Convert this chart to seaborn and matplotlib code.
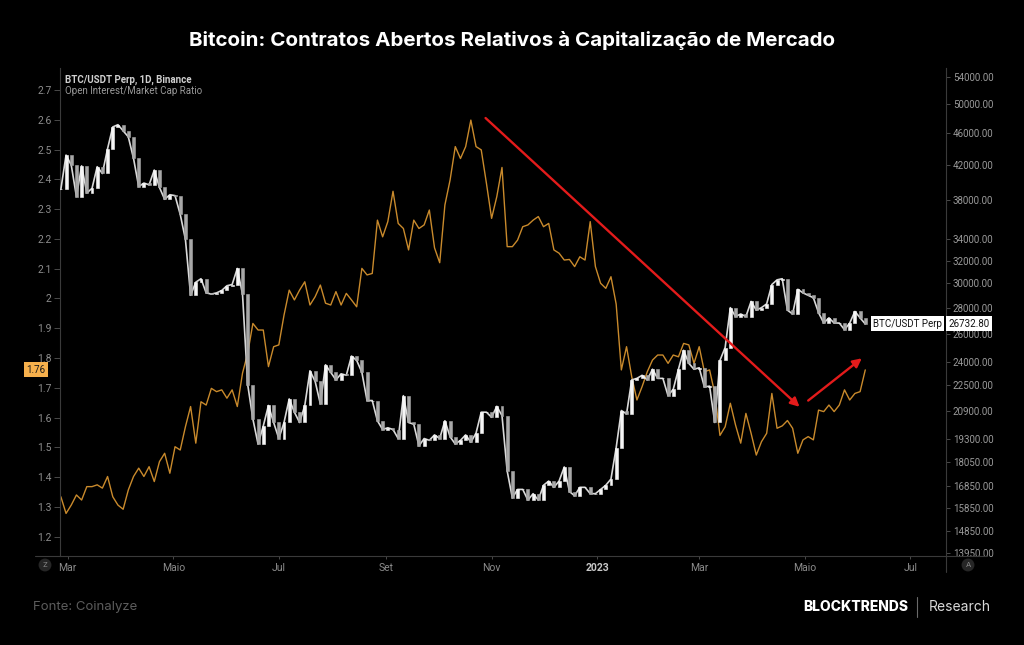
import pandas as pd
import seaborn as sns
import matplotlib.pyplot as plt
import matplotlib.dates as mdates
from matplotlib.ticker import FixedLocator, FixedFormatter, NullLocator
from matplotlib.lines import Line2D

# Style
sns.set_theme(style="dark", rc={"axes.facecolor": "black", "figure.facecolor": "black"})
plt.rcParams['font.family'] = ['Inter', 'DejaVu Sans']

# --- data (one point every 3 days from 2022-02-25) ---
start_date = "2022-02-25"
step_days = 3

btc_close = [
    39200, 43200, 42000, 38400, 41900, 38800, 39300, 41800, 41000, 44000,
    46800, 47100, 46300, 45500, 42800, 39500, 39900, 39700, 41400, 39400,
    38100, 38600, 38500, 36500, 34000, 29000, 30100, 30400, 29200, 29100,
    29200, 29400, 29800, 29900, 31300, 29100, 22500, 20400, 19000, 20000,
    21200, 20200, 19300, 20200, 21600, 20800, 20200, 21200, 23400, 22700,
    21300, 23800, 23300, 22800, 23200, 23100, 24400, 24100, 23300, 21500,
    21500, 20300, 19800, 19900, 19800, 19300, 21800, 20200, 20100, 18900,
    19300, 19200, 19500, 19300, 20300, 19400, 19000, 19200, 19500, 19100,
    19600, 20800, 20800, 20500, 21150, 20600, 17600, 16300, 16700, 16700,
    16200, 16500, 16200, 16900, 17100, 16800, 17100, 17800, 16600, 16400,
    16800, 16800, 16500, 16500, 16700, 16900, 17200, 18800, 20900, 20700,
    22800, 22900, 23100, 22800, 23500, 22900, 22900, 21800, 22200, 23500,
    24800, 23900, 23500, 23600, 22350, 22400, 20200, 24100, 25000, 28000,
    27300, 27500, 27300, 28500, 27800, 28000, 28300, 29900, 30300, 30400,
    27800, 27500, 29500, 29200, 29000, 28800, 27600, 26800, 27200, 26800,
    26800, 26300, 26800, 27700, 27200, 26732.80,
]

oi_mcap_ratio = [
    1.334, 1.278, 1.306, 1.340, 1.323, 1.368, 1.368, 1.374, 1.363, 1.402,
    1.334, 1.306, 1.292, 1.357, 1.402, 1.430, 1.402, 1.435, 1.385, 1.452,
    1.480, 1.413, 1.502, 1.491, 1.569, 1.637, 1.514, 1.653, 1.642, 1.698,
    1.687, 1.693, 1.665, 1.693, 1.637, 1.749, 1.816, 1.916, 1.894, 1.894,
    1.771, 1.838, 1.844, 1.944, 2.028, 1.995, 2.028, 2.056, 1.978, 2.006,
    2.045, 1.984, 1.978, 2.023, 1.978, 2.017, 1.995, 1.972, 2.101, 2.079,
    2.084, 2.263, 2.207, 2.258, 2.360, 2.252, 2.235, 2.163, 2.263, 2.235,
    2.247, 2.297, 2.170, 2.120, 2.314, 2.398, 2.510, 2.470, 2.510, 2.599,
    2.510, 2.499, 2.387, 2.269, 2.342, 2.440, 2.174, 2.174, 2.196, 2.241,
    2.247, 2.263, 2.275, 2.241, 2.252, 2.163, 2.152, 2.129, 2.131, 2.107,
    2.140, 2.129, 2.258, 2.107, 2.051, 2.034, 2.073, 1.981, 1.760, 1.838,
    1.737, 1.659, 1.704, 1.754, 1.793, 1.810, 1.810, 1.782, 1.810, 1.804,
    1.849, 1.844, 1.782, 1.838, 1.754, 1.760, 1.681, 1.540, 1.569, 1.648,
    1.575, 1.514, 1.614, 1.547, 1.474, 1.519, 1.547, 1.681, 1.564, 1.572,
    1.590, 1.564, 1.480, 1.525, 1.536, 1.525, 1.625, 1.620, 1.642, 1.620,
    1.642, 1.693, 1.659, 1.681, 1.687, 1.760,
]

ratio_ticks = [1.2, 1.3, 1.4, 1.5, 1.6, 1.7, 1.8, 1.9, 2.0, 2.1, 2.2, 2.3, 2.4, 2.5, 2.6, 2.7]
ratio_tick_labels = ["1.2", "1.3", "1.4", "1.5", "1.6", "1.7", "1.8", "1.9", "2",
                     "2.1", "2.2", "2.3", "2.4", "2.5", "2.6", "2.7"]
price_ticks = [13950, 14850, 15850, 16850, 18050, 19300, 20900, 22500, 24000,
               26000, 28000, 30000, 32000, 34000, 38000, 42000, 46000, 50000, 54000]
month_ticks = ["2022-03-01", "2022-05-01", "2022-07-01", "2022-09-01", "2022-11-01",
               "2023-01-01", "2023-03-01", "2023-05-01", "2023-07-01"]
month_labels = ["Mar", "Maio", "Jul", "Set", "Nov", "2023", "Mar", "Maio", "Jul"]

title = "Bitcoin: Contratos Abertos Relativos à Capitalização de Mercado"

ORANGE = "#c98a2c"
RED = "#e31b1b"
GRID_GRAY = "#3a3a3a"
LABEL_GRAY = "#8c8c8c"
TICK_FONT = ['Liberation Sans Narrow', 'Roboto', 'DejaVu Sans']


def build_frame():
    dates = pd.date_range(start_date, periods=len(btc_close), freq=f"{step_days}D")
    df = pd.DataFrame({"date": dates, "close": btc_close, "ratio": oi_mcap_ratio})
    df["open"] = df["close"].shift(1).fillna(df["close"])
    return df


def plot_chart(df):
    fig = plt.figure(figsize=(10.24, 6.45), dpi=100, facecolor="black")
    W, H = 1024, 645
    ax = fig.add_axes([60 / W, 1 - 556 / H, (946 - 60) / W, (556 - 68) / H])
    ax.set_facecolor("black")
    ax2 = ax.twinx()
    ax2.patch.set_visible(False)

    # OI / market cap ratio (left axis)
    sns.lineplot(data=df, x="date", y="ratio", ax=ax, color=ORANGE, linewidth=1.0, legend=False)

    # BTC price (right axis, log): close path + candle bodies
    sns.lineplot(data=df, x="date", y="close", ax=ax2, color="#d9d9d9", linewidth=1.2,
                 legend=False, zorder=3)
    up = df["close"] >= df["open"]
    for mask, col in [(up, "#f6f6f6"), (~up, "#a8a8a8")]:
        sub = df[mask]
        ax2.bar(sub["date"], sub["close"] - sub["open"], bottom=sub["open"], width=1.7,
                color=col, edgecolor=col, linewidth=0.4, zorder=4)

    # axes ranges
    ax.set_xlim(pd.Timestamp("2022-02-24 12:00"), pd.Timestamp("2023-07-21 16:00"))
    ax.set_ylim(1.135, 2.774)
    ax2.set_yscale("log")
    ax2.set_ylim(13820, 55340)

    # left ticks
    ax.yaxis.set_major_locator(FixedLocator(ratio_ticks))
    ax.yaxis.set_major_formatter(FixedFormatter(ratio_tick_labels))
    ax.tick_params(axis="y", left=True, length=4, width=0.6, color="#555555",
                   labelcolor=LABEL_GRAY, labelsize=7.5, pad=2)
    # right ticks
    ax2.yaxis.set_major_locator(FixedLocator(price_ticks))
    ax2.yaxis.set_major_formatter(FixedFormatter([f"{p:.2f}" for p in price_ticks]))
    ax2.yaxis.set_minor_locator(NullLocator())
    ax2.tick_params(axis="y", right=True, length=3, width=0.6, color="#555555",
                    labelcolor="#9a9a9a", labelsize=7, pad=2)
    # bottom ticks
    ax.set_xticks([mdates.date2num(pd.Timestamp(d)) for d in month_ticks])
    ax.set_xticklabels(month_labels)
    ax.tick_params(axis="x", bottom=True, length=2, width=0.6, color="#555555",
                   labelcolor=LABEL_GRAY, labelsize=7.5, pad=3)
    for lab in ax.get_xticklabels():
        if lab.get_text() == "2023":
            lab.set_fontweight("bold")
            lab.set_color("#c8c8c8")
    for t in ax.get_yticklabels() + ax.get_xticklabels() + ax2.get_yticklabels():
        t.set_family(TICK_FONT)

    ax.set_xlabel("")
    ax.set_ylabel("")
    ax2.set_xlabel("")
    ax2.set_ylabel("")
    for a in (ax, ax2):
        for s in a.spines.values():
            s.set_visible(False)
        a.grid(False)
    ax.spines["left"].set_visible(True)
    ax.spines["left"].set_color(GRID_GRAY)
    ax.spines["left"].set_linewidth(0.8)
    ax2.spines["right"].set_visible(True)
    ax2.spines["right"].set_color(GRID_GRAY)
    ax2.spines["right"].set_linewidth(0.8)

    # bottom axis line wider than plot + right spine stub
    fig.add_artist(Line2D([35 / W, 987 / W], [1 - 556 / H] * 2, color=GRID_GRAY, lw=0.8))
    fig.add_artist(Line2D([946 / W] * 2, [1 - 556 / H, 1 - 572 / H], color=GRID_GRAY, lw=0.8))

    # last-value labels
    ax.text(-0.027, oi_mcap_ratio[-1], f"{oi_mcap_ratio[-1]:.2f}", transform=ax.get_yaxis_transform(),
            ha="center", va="center", fontsize=7, color="#1a1a1a", family=TICK_FONT,
            bbox=dict(boxstyle="square,pad=0.25", fc="#f6b04c", ec="none"), clip_on=False)
    ax2.text(1.003, btc_close[-1], f"{btc_close[-1]:.2f}", transform=ax2.get_yaxis_transform(),
             ha="left", va="center", fontsize=7, color="#111111", family=TICK_FONT,
             bbox=dict(boxstyle="square,pad=0.25", fc="white", ec="none"), clip_on=False, zorder=5)
    ax2.text(0.9955, btc_close[-1], "BTC/USDT Perp", transform=ax2.get_yaxis_transform(),
             ha="right", va="center", fontsize=7, color="#111111", family=TICK_FONT,
             bbox=dict(boxstyle="square,pad=0.25", fc="white", ec="none"), clip_on=False, zorder=5)

    # trend arrows (drawn on the price axes so they sit above the candles)
    arrow = dict(arrowstyle="-|>", color=RED, lw=1.7, mutation_scale=13, shrinkA=0, shrinkB=0)
    ax2.annotate("", xy=(mdates.date2num(pd.Timestamp("2023-04-28")), 1.636),
                 xytext=(mdates.date2num(pd.Timestamp("2022-10-28 12:00")), 2.606),
                 xycoords=ax.transData, textcoords=ax.transData, arrowprops=arrow, zorder=6)
    ax2.annotate("", xy=(mdates.date2num(pd.Timestamp("2023-06-03")), 1.799),
                 xytext=(mdates.date2num(pd.Timestamp("2023-05-03")), 1.657),
                 xycoords=ax.transData, textcoords=ax.transData, arrowprops=arrow, zorder=6)

    # headers
    fig.text(0.5, 1 - 40 / H, title, ha="center", va="center", color="white",
             fontsize=14.8, fontweight="bold")
    fig.text(65 / W, 1 - 80 / H, "BTC/USDT Perp, 1D, Binance", ha="left", va="center",
             color="#cfcfcf", fontsize=7, fontweight="bold", family=TICK_FONT)
    fig.text(65 / W, 1 - 91 / H, "Open Interest/Market Cap Ratio", ha="left", va="center",
             color="#9a9a9a", fontsize=7, family=TICK_FONT)

    # corner buttons
    for x, letter in [(45, "Z"), (968, "A")]:
        fig.text(x / W, 1 - 565 / H, letter, ha="center", va="center", color="#8a8a8a",
                 fontsize=5.5, bbox=dict(boxstyle="circle,pad=0.45", fc="#262626", ec="none"))

    # footer
    fig.text(33 / W, 1 - 607 / H, "Fonte: Coinalyze", ha="left", va="center",
             color="#5c5c5c", fontsize=9.5)
    fig.text(908 / W, 1 - 607 / H, "BLOCKTRENDS", ha="right", va="center",
             color="white", fontsize=10, fontweight="heavy")
    fig.add_artist(Line2D([917 / W] * 2, [1 - 597 / H, 1 - 617 / H], color="#6a6a6a", lw=0.8))
    fig.text(929 / W, 1 - 607 / H, "Research", ha="left", va="center",
             color="#d8d8d8", fontsize=10)

    fig.savefig("out.png", dpi=100, facecolor="black")


if __name__ == "__main__":
    df = build_frame()
    plot_chart(df)
